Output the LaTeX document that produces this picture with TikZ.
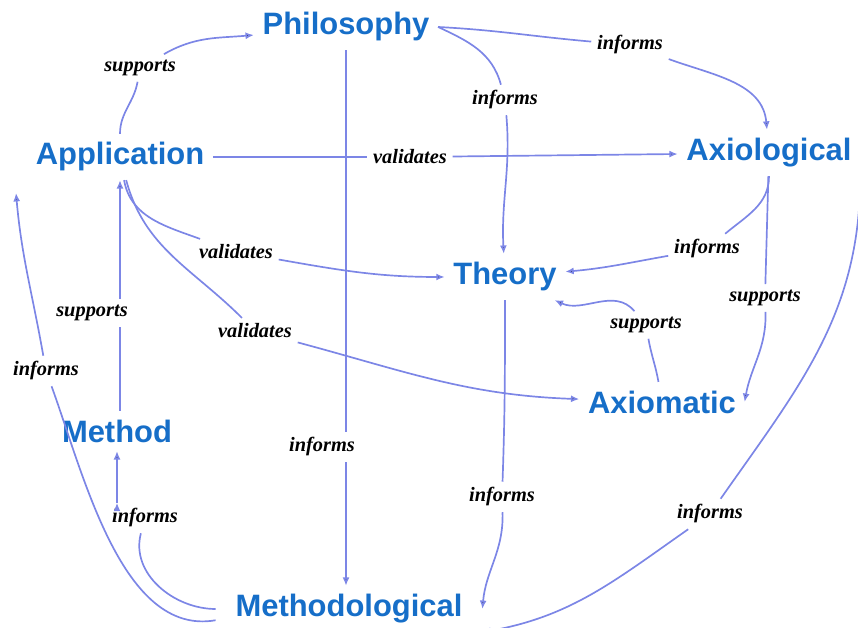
\documentclass[tikz,border=0pt]{standalone}
\usepackage{fontspec}
\setmainfont{Liberation Serif}
\setsansfont{Liberation Sans}
\usetikzlibrary{arrows.meta}
\definecolor{conceptblue}{RGB}{22,110,200}
\definecolor{linkblue}{RGB}{124,134,230}
\begin{document}
\begin{tikzpicture}[x=0.025cm, y=0.025cm,
    concept/.style = {text=conceptblue, font=\sffamily\bfseries\fontsize{22}{26}\selectfont, inner sep=6pt},
    rel/.style     = {font=\bfseries\itshape\fontsize{14.5}{17}\selectfont, inner sep=4pt},
    link/.style    = {draw=linkblue, line width=1.2pt},
    arr/.style     = {link, -{Latex[length=6pt, width=5pt]}}
  ]
  \useasboundingbox (0, 0) rectangle (858, 628);

  % ------------------------------------------------------------------------
  % Concepts
  \node[concept] at (346, 601) (phil) {Philosophy};
  \node[concept] at (120, 471) (app) {Application};
  \node[concept] at (769, 475) (axio) {Axiological};
  \node[concept] at (505, 351) (theory) {Theory};
  \node[concept] at (662, 226) (axiomatic) {Axiomatic};
  \node[concept] at (117, 197) (method) {Method};
  \node[concept, inner xsep=14pt] at (349, 19) (methodological) {Methodological};

  \coordinate (appin) at (16, 435);

  % ------------------------------------------------------------------------
  % Relation labels
  \node[rel] at (140, 560) (supA) {supports};
  \node[rel] at (630, 583) (infPA) {informs};
  \node[rel] at (505, 528) (infPT) {informs};
  \node[rel] at (410, 471) (valAA) {validates};
  \node[rel] at (236, 376) (valAT) {validates};
  \node[rel] at (255, 297) (valAX) {validates};
  \node[rel] at (322, 181) (infPM) {informs};
  \node[rel] at ( 92, 315) (supM) {supports};
  \node[rel] at ( 46, 257) (infMA) {informs};
  \node[rel] at (145, 110) (infMM) {informs};
  \node[rel] at (502, 131) (infTM) {informs};
  \node[rel] at (710, 114) (infXM) {informs};
  \node[rel] at (707, 379) (infXT) {informs};
  \node[rel] at (765, 330) (supX) {supports};
  \node[rel] at (646, 303) (supT) {supports};

  % ------------------------------------------------------------------------
  % Connectors: concept to label
  \draw[link]
    (app) edge[out=90, in=-100] (supA)
    (phil.east) edge[out=-3, in=175] (infPA)
    (phil.east) edge[out=-25, in=105] (infPT)
    (app) edge (valAA)
    (phil) edge (phil |- infPM.north)
    (app) edge[out=-80, in=160] (valAT)
    (app) edge[out=-75, in=135] (valAX)
    (app |- method.north) edge (app |- supM.south)
    ([yshift=-8pt]methodological.west) edge[out=190, in=-70, looseness=0.85] (infMA)
    (methodological) edge[out=180, in=-105] (infMM)
    (theory) edge[out=-90, in=88] (infTM)
    (axio.south east) edge[out=-90, in=55] (infXM)
    (axio) edge[out=-90, in=40] (infXT)
    (axio) edge (supX)
    (axiomatic) edge[out=100, in=-80] (supT)
  ;

  % ------------------------------------------------------------------------
  % Connectors: label to concept
  \draw[arr]
    (supA) edge[out=30, in=185] (phil)
    (infPA) edge[out=-20, in=95] (axio)
    (infPT) edge[out=-85, in=93] (theory)
    (valAA) edge (axio)
    (phil |- infPM.south) edge (phil |- methodological.north)
    (valAT) edge[out=-10, in=180] (theory)
    (valAX) edge[out=-15, in=178] (axiomatic)
    (app |- supM.north) edge (app)
    (infMA) edge[out=100, in=-85] (appin)
    (infMM.north -| method) edge[out=90, in=-90] (method)
    (infTM) edge[out=-88, in=85] (methodological.east)
    (infXM) edge[out=-145, in=10] (methodological.south east)
    (infXT) edge[out=190, in=5] (theory)
    (supX) edge[out=-88, in=80] (axiomatic.east)
    (supT) edge[out=130, in=-25] (theory)
  ;
\end{tikzpicture}
\end{document}
